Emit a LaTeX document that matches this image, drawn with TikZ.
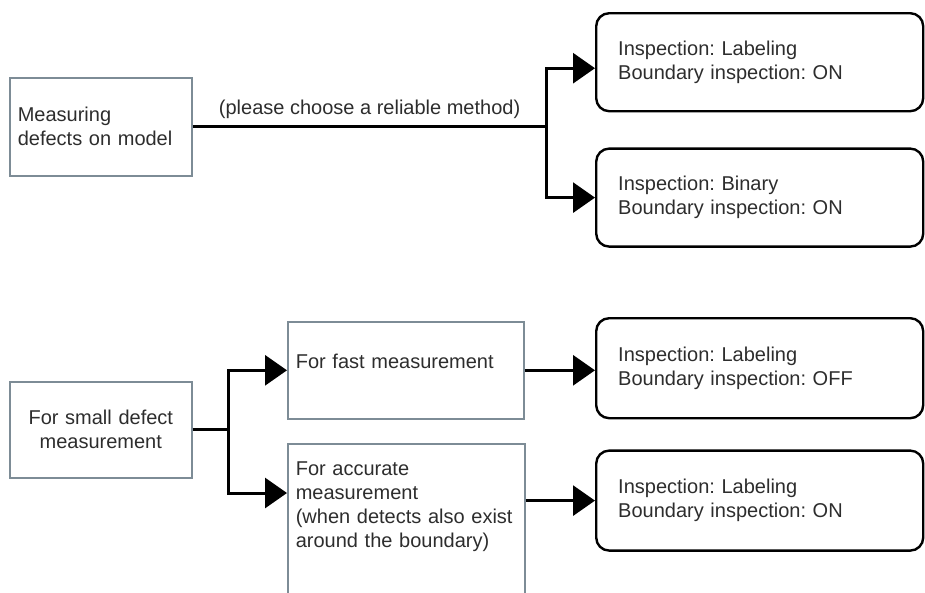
\documentclass[tikz,border=0pt]{standalone}
\usepackage{fontspec}
\setmainfont{Liberation Sans}
\usepackage{tikz}
\usetikzlibrary{arrows.meta,positioning,calc}
\definecolor{boxline}{RGB}{125,140,150}
\definecolor{txt}{RGB}{45,45,45}
\newcommand{\boxfont}{\fontsize{20}{24}\selectfont\frenchspacing}

\begin{document}
\begin{tikzpicture}[
  x=1pt, y=-1pt,
  sbox/.style={rectangle, draw=boxline, line width=1.6pt, anchor=north west,
               align=left, font=\boxfont, text=txt, inner xsep=8pt,
               inner ysep=8pt},
  rbox/.style={rectangle, draw, line width=2.4pt, rounded corners=13pt,
               anchor=north west, align=left, font=\boxfont, text=txt,
               inner xsep=22pt, text width=283pt, minimum height=98pt},
  conn/.style={draw, line width=3pt},
  arr/.style={draw, line width=3pt, -{Triangle[length=22pt,width=30pt]}},
  node distance=35pt
]
\useasboundingbox (0,0) rectangle (925,592);
\clip (0,0) rectangle (925,592);

\node[sbox, text width=166pt, minimum height=98pt] (measure) at (9,77)
  {Measuring\\defects on model};
\node[rbox] (lab1) at (595,12)
  {Inspection: Labeling\\Boundary inspection: ON};
\node[rbox, below=of lab1] (bin1)
  {Inspection: Binary\\Boundary inspection: ON};
\coordinate (br1) at ([xshift=354pt]measure.east);
\draw[conn] (measure.east) -- node[above=3pt, font=\boxfont, text=txt] (hint)
  {(please choose a reliable method)} (br1);
\draw[arr] (br1) |- ([yshift=-6pt]lab1.west);
\draw[arr] (br1) |- (bin1.west);

\node[sbox, align=center, text width=166pt, minimum height=96pt] (small)
  at (9,381) {For small defect\\measurement};
\node[sbox, text width=220pt, minimum height=97pt, text depth=18pt] (fast)
  at (287,321) {For fast measurement};
\node[sbox, text width=221pt, text height=24pt, text depth=190pt] (acc)
  at (287,443)
  {For accurate\\measurement\\(when detects also exist\\around the boundary)};
\node[rbox, minimum height=100pt] (lab2) at (595,317)
  {Inspection: Labeling\\Boundary inspection: OFF};
\node[rbox, minimum height=100pt, below=30pt of lab2] (lab3)
  {Inspection: Labeling\\Boundary inspection: ON};
\coordinate (br2) at ([xshift=36pt]small.east);
\draw[conn] (small.east) -- (br2);
\draw[arr] (br2) |- (fast.west);
\draw[arr] (br2) |- ([yshift=-50pt]acc.north west);
\draw[arr] (fast.east) -- (fast.east -| lab2.west);
\draw[arr] (acc.east |- lab3.west) -- (lab3.west);
\end{tikzpicture}
\end{document}
